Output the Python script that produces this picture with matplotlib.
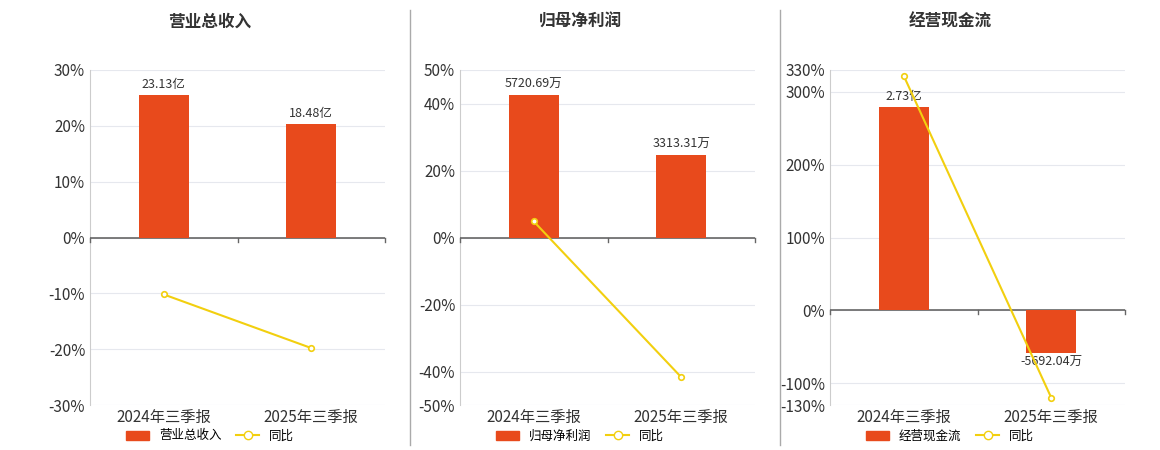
import matplotlib
matplotlib.use('Agg')
import matplotlib.pyplot as plt
from matplotlib.lines import Line2D
from matplotlib.patches import Patch

plt.rcParams['font.family'] = ['Noto Sans CJK SC', 'DejaVu Sans']

periods = ['2024年三季报', '2025年三季报']

titles = ['营业总收入', '归母净利润', '经营现金流']
bar_vals = [[23.13, 18.48], [5720.69, 3313.31], [2.73, -0.569204]]
bar_labels = [['23.13亿', '18.48亿'], ['5720.69万', '3313.31万'], ['2.73亿', '-5692.04万']]
yoy = [[-10.2, -19.8], [4.8, -41.7], [322, -120]]
yticks = [[-30, -20, -10, 0, 10, 20, 30],
          [-50, -40, -20, 0, 20, 40, 50],
          [-130, -100, 0, 100, 200, 300, 330]]
# fraction of the percent axis reached by the first bar
bar_frac = [25.5 / 30, 42.6 / 50, 279 / 330]

BAR = '#E84A1C'
LINE = '#F2CF0F'

fig = plt.figure(figsize=(11.6, 4.5), dpi=100)
lefts = [90, 460, 830]
W, H = 1160, 450

for i in range(3):
    ax = fig.add_axes([lefts[i] / W, (H - 405) / H, 295 / W, 335 / H])
    lo, hi = yticks[i][0], yticks[i][-1]
    ax.set_ylim(lo, hi)
    ax.set_xlim(-0.5, 1.5)
    ax.set_yticks(yticks[i])
    ax.set_yticklabels([f'{t}%' for t in yticks[i]], fontsize=11, color='#333333')
    ax.grid(True, axis='y', color='#e6e8ee', lw=0.8)
    ax.set_axisbelow(True)
    for s in ['top', 'right', 'bottom']:
        ax.spines[s].set_visible(False)
    ax.spines['left'].set_color('#cccccc')
    ax.axhline(0, color='#666666', lw=1.2, zorder=3)
    ax.tick_params(axis='y', length=0)
    ax.set_xticks([0, 1])
    ax.set_xticklabels(periods, fontsize=11, color='#333333')
    ax.tick_params(axis='x', length=0, pad=3)
    for xv in [-0.5, 0.5, 1.5]:
        ax.plot([xv, xv], [0, -(hi - lo) * 0.012], color='#666666', lw=1, clip_on=False, zorder=3)
    # the x labels sit at the bottom of the axes
    ax.xaxis.set_ticks_position('bottom')

    ax2 = ax.twinx()
    scale = bar_vals[i][0] / (bar_frac[i] * hi)
    ax2.set_ylim(lo * scale, hi * scale)
    ax2.axis('off')
    bars = ax2.bar([0, 1], bar_vals[i], width=0.34, color=BAR, zorder=2)
    for b, v, lab in zip(bars, bar_vals[i], bar_labels[i]):
        if v >= 0:
            ax2.annotate(lab, (b.get_x() + b.get_width() / 2, v), xytext=(0, 3),
                         textcoords='offset points', ha='center', va='bottom', fontsize=9, color='#333333')
        else:
            ax2.annotate(lab, (b.get_x() + b.get_width() / 2, v), xytext=(0, -2),
                         textcoords='offset points', ha='center', va='top', fontsize=9, color='#333333')

    ax3 = ax.twinx()
    ax3.set_ylim(lo, hi)
    ax3.axis('off')
    ax3.plot([0, 1], yoy[i], color=LINE, lw=1.5, marker='o', ms=4,
             mfc='white', mec=LINE, mew=1.2, zorder=5)

    fig.text((lefts[i] + 120) / W, 1 - 22 / H, titles[i], ha='center', va='center',
             fontsize=12, fontweight='bold', color='#333333')

    handles = [Patch(color=BAR), Line2D([0], [0], color=LINE, marker='o', mfc='white', mec=LINE, lw=1.5)]
    fig.legend(handles, [titles[i], '同比'], loc='center', ncol=2, frameon=False, fontsize=9,
               bbox_to_anchor=((lefts[i] + 120) / W, 1 - 436 / H), handlelength=1.8, columnspacing=1.2)

for xs in [410, 780]:
    fig.add_artist(Line2D([xs / W, xs / W], [1 - 10 / H, 1 - 445 / H], color='#aaaaaa', lw=1))

fig.savefig('out.png', dpi=100)
